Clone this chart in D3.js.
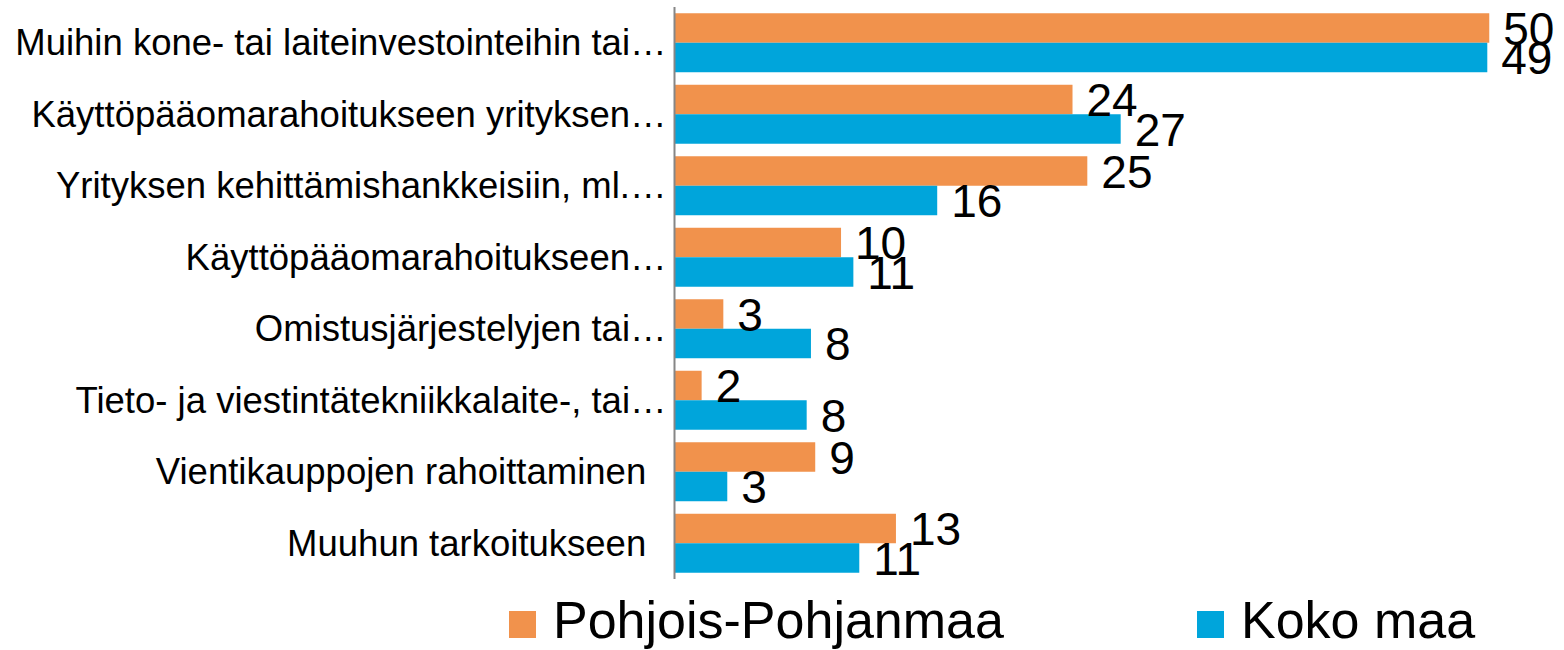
<!DOCTYPE html>
<html>
<head>
<meta charset="utf-8">
<script src="https://cdn.jsdelivr.net/npm/d3@7"></script>
<style>
  body { margin: 0; background: #fff; }
  svg { display: block; font-family: Arial, "Liberation Sans", sans-serif; }
</style>
</head>
<body>
<div id="chart"></div>
<script>
// categories, top to bottom (truncated as in the source chart)
const categories = [
    "Muihin kone- tai laiteinvestointeihin tai…",
    "Käyttöpääomarahoitukseen yrityksen…",
    "Yrityksen kehittämishankkeisiin, ml.…",
    "Käyttöpääomarahoitukseen…",
    "Omistusjärjestelyjen tai…",
    "Tieto- ja viestintätekniikkalaite-, tai…",
    "Vientikauppojen rahoittaminen  ",
    "Muuhun tarkoitukseen  "
];

const seriesNames = ["Pohjois-Pohjanmaa", "Koko maa"];

// values in percent (labels are rounded)
const pohjoisValues = [49.56, 24.21, 25.11, 10.13, 2.97, 1.65, 8.56, 13.47];
const kokoValues = [49.44, 27.14, 15.98, 10.88, 8.30, 8.04, 3.21, 11.24];

const colors = ["#f1924c", "#00a5db"];

const width = 1564, height = 650;
const axisX = 674.5;

const svg = d3.select("#chart")
    .append("svg")
    .attr("width", width)
    .attr("height", height);

// scales
const x = d3.scaleLinear().domain([0, 50]).range([axisX, axisX + 50 * 16.44]);
const y = d3.scaleBand().domain(categories).range([7, 579])
    .paddingInner(0.175).paddingOuter(0.0875);
const ySub = d3.scaleBand().domain([0, 1]).range([0, y.bandwidth()]);

const fmt = d3.format(".0f");

const rows = categories.map((c, i) => ({ cat: c, vals: [pohjoisValues[i], kokoValues[i]] }));

const groups = svg.selectAll("g.row")
    .data(rows)
    .enter().append("g")
    .attr("class", "row")
    .attr("transform", d => `translate(0,${y(d.cat)})`);

// bars
groups.selectAll("rect")
    .data(d => d.vals.map((v, s) => ({ v, s })))
    .enter().append("rect")
    .attr("x", x(0))
    .attr("y", d => ySub(d.s))
    .attr("width", d => x(d.v) - x(0))
    .attr("height", ySub.bandwidth())
    .attr("fill", d => colors[d.s]);

// value labels
groups.selectAll("text.val")
    .data(d => d.vals.map((v, s) => ({ v, s })))
    .enter().append("text")
    .attr("class", "val")
    .attr("x", d => x(d.v) + 14)
    .attr("y", d => ySub(d.s) + ySub.bandwidth() / 2)
    .attr("dy", "0.36em")
    .style("font-size", "46px")
    .attr("fill", "#000")
    .text(d => fmt(d.v));

// category axis
const yAxis = svg.append("g")
    .attr("transform", `translate(${axisX},0)`)
    .call(d3.axisLeft(y).tickSize(0).tickPadding(8));
yAxis.select(".domain")
    .attr("d", "M0,7V579")
    .attr("stroke", "#868686")
    .attr("stroke-width", 2);
yAxis.selectAll("text")
    .attr("dy", "0.34em")
    .style("font-size", "36.5px")
    .style("white-space", "pre")
    .attr("fill", "#000")
    .attr("font-family", null);

// legend
const legendX = [509, 1197];
const legend = svg.selectAll("g.legend")
    .data(seriesNames)
    .enter().append("g")
    .attr("class", "legend")
    .attr("transform", (d, i) => `translate(${legendX[i]},611)`);

legend.append("rect")
    .attr("width", 27)
    .attr("height", 27)
    .attr("fill", (d, i) => colors[i]);

legend.append("text")
    .attr("x", 44)
    .attr("y", 27)
    .style("font-size", "52px")
    .attr("fill", "#000")
    .text(d => d);
</script>
</body>
</html>
